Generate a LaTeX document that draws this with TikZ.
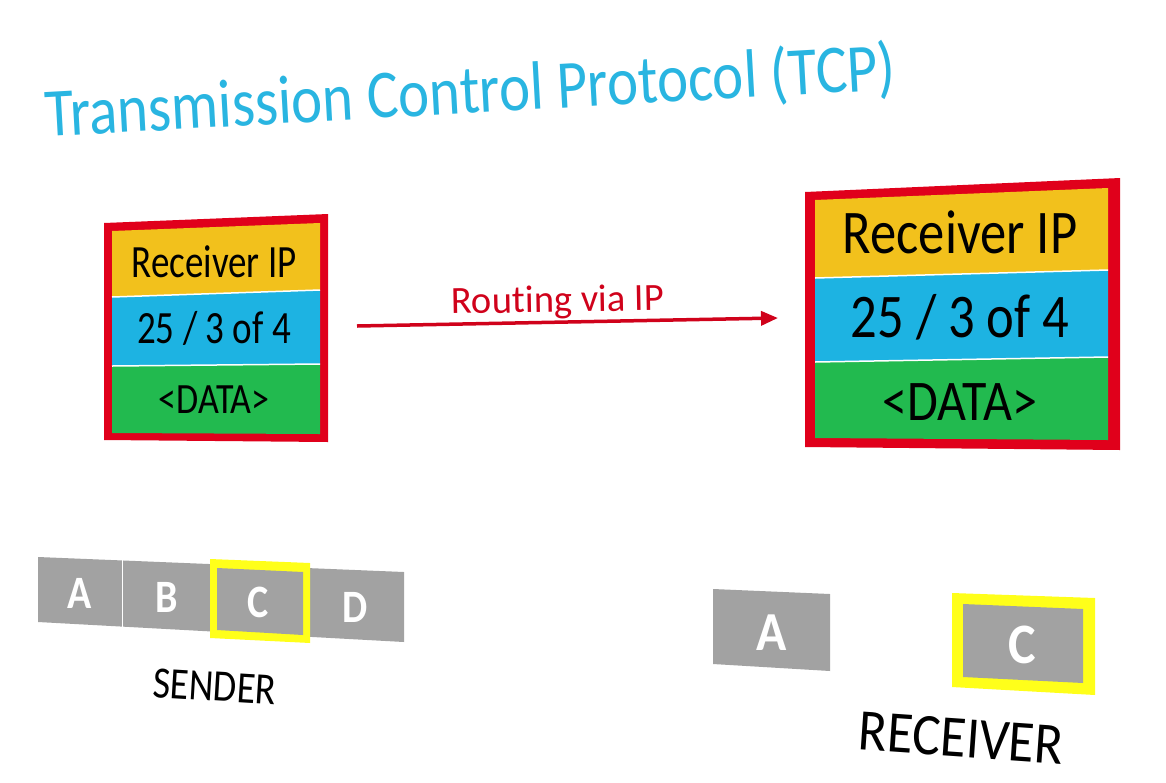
\documentclass[tikz,border=0pt]{standalone}
\usepackage{fontspec}
\setmainfont{Carlito}[Ligatures=NoCommon]
\usetikzlibrary{arrows.meta}
\definecolor{titleblue}{HTML}{29B5E1}
\definecolor{pkred}{HTML}{E0001B}
\definecolor{txtred}{HTML}{D0021B}
\definecolor{pkyellow}{HTML}{F2C11C}
\definecolor{pkblue}{HTML}{1DB3E2}
\definecolor{pkgreen}{HTML}{22BA4F}
\definecolor{blockgray}{HTML}{A2A2A2}
\definecolor{hiyellow}{HTML}{FFFF1A}
\tikzset{
  sep/.style={white, line width=1.5pt},
  divider/.style={white, line width=1pt},
  ptext/.style={anchor=base, inner sep=0pt, text=black},
  letter/.style={anchor=base, inner sep=0pt, text=white},
  caption/.style={anchor=base, inner sep=0pt, text=black},
  route/.style={txtred, line width=3.5pt, -{Triangle[length=17pt,width=14pt]}}
}
\begin{document}
\begin{tikzpicture}[x=1pt,y=-1pt]
\useasboundingbox (0,0) rectangle (1166,782);
\fill[white] (0,0) rectangle (1166,782);

% title
\node[anchor=base west, inner sep=0pt, text=titleblue, rotate=3.2, yscale=1.16,
      font=\fontsize{59}{62}\selectfont] (title) at (46,137) {Transmission Control Protocol (TCP)};

% left packet
\fill[pkred] (104,223) -- (328,214) -- (328,442) -- (104,440) -- cycle;
\fill[pkyellow] (112,231) -- (320,223) -- (320,290) -- (112,297) -- cycle;
\fill[pkblue] (112,297) -- (320,290) -- (320,364) -- (112,366) -- cycle;
\fill[pkgreen] (112,366) -- (320,364) -- (320,434) -- (112,433) -- cycle;
\draw[sep] (112,297) -- (320,290);
\draw[sep] (112,366) -- (320,364);
\node[ptext, yscale=1.25, font=\fontsize{37}{40}\selectfont] (l1) at (214,277) {Receiver IP};
\node[ptext, yscale=1.25, font=\fontsize{37}{40}\selectfont] (l2) at (214,343) {25 / 3 of 4};
\node[ptext, yscale=1.2, font=\fontsize{36}{40}\selectfont] (l3) at (214,413) {<DATA>};

% right packet
\fill[pkred] (805,192) -- (1120,178) -- (1120,450) -- (805,447) -- cycle;
\fill[pkyellow] (815,200) -- (1108,188) -- (1108,270) -- (815,278) -- cycle;
\fill[pkblue] (815,278) -- (1108,270) -- (1108,357) -- (815,362) -- cycle;
\fill[pkgreen] (815,362) -- (1108,357) -- (1108,440) -- (815,438) -- cycle;
\draw[sep] (815,278) -- (1108,270);
\draw[sep] (815,362) -- (1108,357);
\node[ptext, yscale=1.18, font=\fontsize{52.6}{56}\selectfont] (r1) at (960,253) {Receiver IP};
\node[ptext, yscale=1.18, font=\fontsize{52.6}{56}\selectfont] (r2) at (960,337) {25 / 3 of 4};
\node[ptext, yscale=1.15, font=\fontsize{50}{54}\selectfont] (r3) at (960,420) {<DATA>};

% routing arrow
\coordinate (from) at (357,326);
\coordinate (to) at (778,318);
\draw[route] (from) -- (to);
\node[anchor=base, inner sep=0pt, text=txtred, rotate=1, font=\fontsize{38.5}{42}\selectfont] (rlab) at (558,312) {Routing via IP};

% sender blocks
\fill[blockgray] (38,557) -- (404,572) -- (404,642) -- (38,622) -- cycle;
\draw[divider] (122,560.4) -- (122,626.6);
\fill[hiyellow] (210,559) -- (310,563) -- (310,643) -- (210,638) -- cycle;
\fill[blockgray] (217,568) -- (303,572) -- (303,635) -- (217,630) -- cycle;
\node[letter, yscale=1.16, font=\fontsize{40}{44}\selectfont\bfseries] (sa) at (80,608) {A};
\node[letter, yscale=1.16, font=\fontsize{40}{44}\selectfont\bfseries] (sb) at (167,612) {B};
\node[letter, yscale=1.16, font=\fontsize{40}{44}\selectfont\bfseries] (sc) at (258,617) {C};
\node[letter, yscale=1.16, font=\fontsize{40}{44}\selectfont\bfseries] (sd) at (355,622) {D};
\node[caption, rotate=-3.5, yscale=1.18, font=\fontsize{38}{42}\selectfont] (sender) at (214,701) {SENDER};

% receiver blocks
\fill[blockgray] (713,589) -- (830,594) -- (830,671) -- (713,664) -- cycle;
\node[letter, yscale=1.1, font=\fontsize{50}{54}\selectfont\bfseries] (ra) at (772,650) {A};
\fill[hiyellow] (952,593) -- (1095,598) -- (1095,695) -- (952,687) -- cycle;
\fill[blockgray] (963,604) -- (1083,609) -- (1083,683) -- (963,677) -- cycle;
\node[letter, yscale=1.1, font=\fontsize{52}{56}\selectfont\bfseries] (rc) at (1022,663) {C};
\node[caption, rotate=-4, yscale=1.12, font=\fontsize{52.6}{56}\selectfont] (receiver) at (960,757) {RECEIVER};
\end{tikzpicture}
\end{document}
